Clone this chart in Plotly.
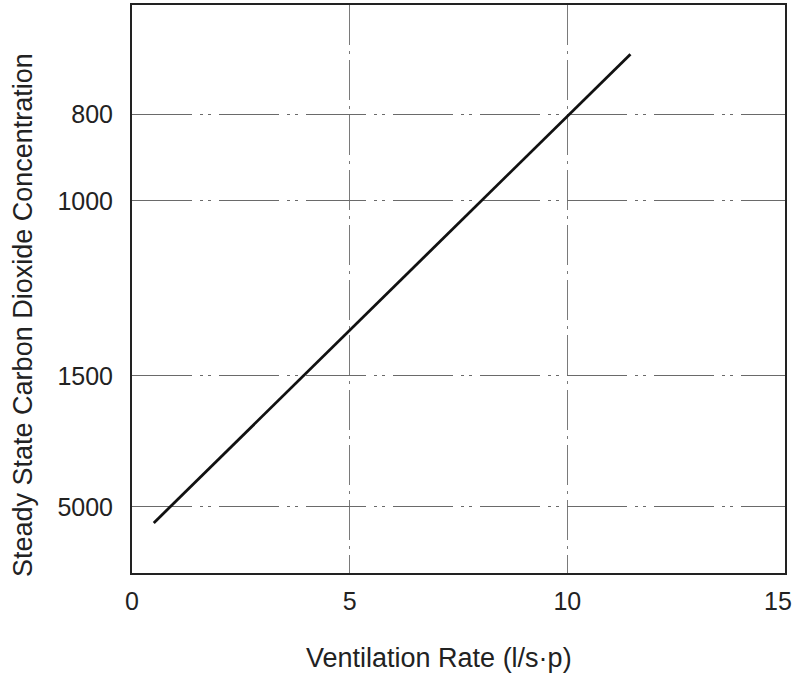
import plotly.graph_objects as go

# Data
ventilation_rate = [0.5, 11.45]           # l/s·p, line end points
concentration_pos = [1.15, 11.92]         # position on the (non-linear) concentration scale
y_tick_pos = [10.54, 8.55, 4.53, 1.52]
y_tick_labels = ["800", "1000", "1500", "5000"]
x_ticks = [0, 5, 10, 15]
x_tick_labels = ["0", "5", "10", "15"]

font_family = "Liberation Sans, Arial, Helvetica, sans-serif"

fig = go.Figure()
fig.add_trace(go.Scatter(
    x=ventilation_rate, y=concentration_pos, mode="lines",
    line=dict(color="#111111", width=2.8), showlegend=False, hoverinfo="skip"))

# last x label drawn as an annotation so it can sit flush inside the page edge
shown_text = x_tick_labels[:-1] + [""]
last_label = dict(text=x_tick_labels[-1], xref="x", yref="paper", x=x_ticks[-1], y=0,
                  xshift=-7, yshift=-28, xanchor="center", yanchor="middle",
                  showarrow=False, font=dict(size=25, family=font_family, color="#222222"))

fig.update_layout(
    width=796, height=674, autosize=False,
    margin=dict(l=132, r=11, t=5, b=101, autoexpand=False),
    paper_bgcolor="white", plot_bgcolor="white",
    font=dict(family=font_family, size=25, color="#222222"),
    xaxis=dict(
        range=[0, 15], tickvals=x_ticks, ticktext=shown_text,
        showline=True, mirror=True, linecolor="#222222", linewidth=2,
        showgrid=True, gridcolor="#7a7a7a", gridwidth=1,
        griddash="40px,6px,3px,6px",
        ticks="outside", ticklen=5, tickcolor="rgba(0,0,0,0)",
        automargin=False,
        zeroline=False, tickfont=dict(size=25),
    ),
    yaxis=dict(
        range=[0, 13.05], tickvals=y_tick_pos, ticktext=y_tick_labels,
        showline=True, mirror=True, linecolor="#222222", linewidth=2,
        showgrid=True, gridcolor="#6a6a6a", gridwidth=1,
        griddash="60px,8px,3px,5px,3px,8px",
        ticks="outside", ticklen=12, tickcolor="rgba(0,0,0,0)",
        automargin=False,
        zeroline=False, tickfont=dict(size=25),
    ),
    annotations=[
        last_label,
        dict(text="Ventilation Rate (l/s·p)", xref="paper", yref="paper",
             x=(439 - 132) / (796 - 132 - 11), y=-(658 - 573) / (674 - 5 - 101),
             xanchor="center", yanchor="middle", showarrow=False,
             font=dict(size=27, family=font_family, color="#222222")),
        dict(text="Steady State Carbon Dioxide Concentration", xref="paper", yref="paper",
             x=-(132 - 23) / (796 - 132 - 11), y=(573 - 315) / (674 - 5 - 101),
             xanchor="center", yanchor="middle", textangle=-90, showarrow=False,
             font=dict(size=27, family=font_family, color="#222222")),
    ],
)

fig.write_html("out.html", config={"displayModeBar": False},
               post_script="document.body.style.margin='0px';")
